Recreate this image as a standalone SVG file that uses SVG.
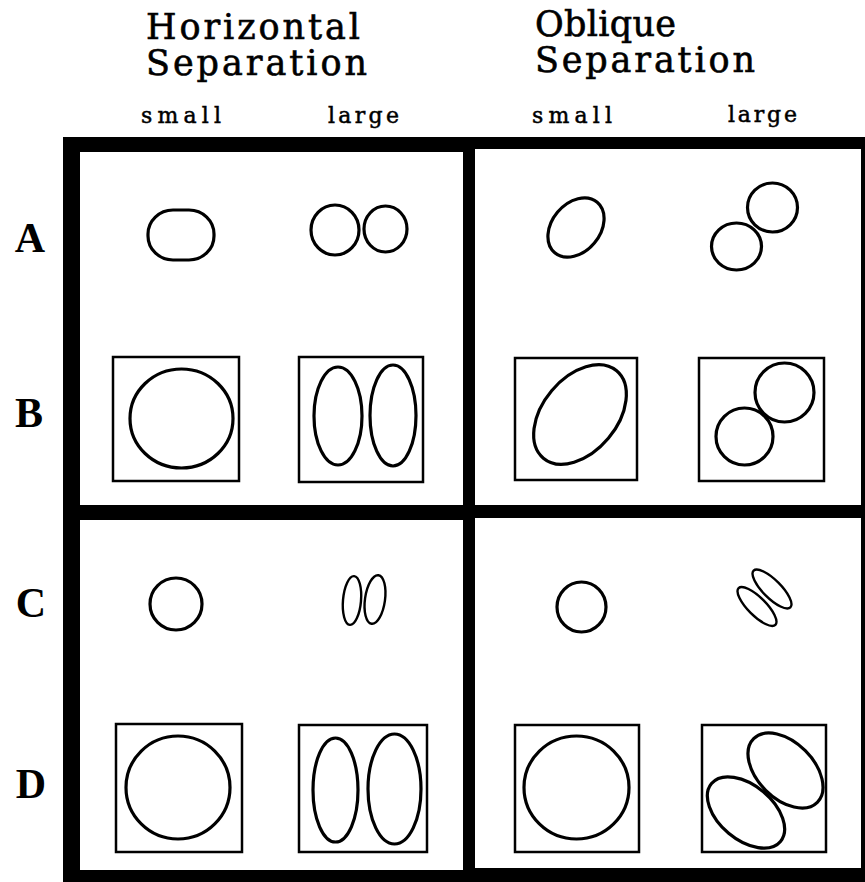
<svg xmlns="http://www.w3.org/2000/svg" width="865" height="882" viewBox="0 0 865 882">
<style>
.title{font-family:"DejaVu Serif","Liberation Serif",serif;font-size:35px;fill:#000;stroke:#000;stroke-width:0.6}
.sub{font-family:"DejaVu Serif","Liberation Serif",serif;font-size:22px;fill:#000;stroke:#000;stroke-width:0.5}
.row{font-family:"Liberation Serif","Times New Roman",serif;font-size:42px;font-weight:bold;fill:#000;text-anchor:middle}
.box{fill:none;stroke:#000;stroke-width:2.5}
.cell{fill:none;stroke:#000;stroke-width:3.2}
.thin{fill:none;stroke:#000;stroke-width:2.4}
</style>
<rect width="865" height="882" fill="#fff"/>
<g id="titles">
<text class="title"><tspan x="146" y="39" textLength="214" lengthAdjust="spacing">Horizontal</tspan><tspan x="146" y="75" textLength="221" lengthAdjust="spacing">Separation</tspan></text>
<text class="title"><tspan x="535" y="36" textLength="141" lengthAdjust="spacing">Oblique</tspan><tspan x="535" y="72" textLength="220" lengthAdjust="spacing">Separation</tspan></text>
<text class="sub" x="141" y="123" textLength="80" lengthAdjust="spacing">small</text>
<text class="sub" x="328" y="123" textLength="71" lengthAdjust="spacing">large</text>
<text class="sub" x="532" y="123" textLength="80" lengthAdjust="spacing">small</text>
<text class="sub" x="728" y="122" textLength="69" lengthAdjust="spacing">large</text>
</g>
<g id="row-labels">
<text class="row" x="30" y="252">A</text>
<text class="row" x="29" y="427">B</text>
<text class="row" x="31" y="617">C</text>
<text class="row" x="31" y="798">D</text>
</g>
<g id="frame">
<rect x="63" y="137" width="802" height="745" fill="#000"/>
<rect x="80" y="152" width="383" height="353" fill="#fff"/>
<rect x="475" y="149" width="386" height="356" fill="#fff"/>
<rect x="80" y="520" width="383" height="350" fill="#fff"/>
<rect x="475" y="518" width="386" height="350" fill="#fff"/>
</g>
<g id="horizontal-AB">
<rect class="cell" x="148" y="210" width="66" height="50" rx="25" ry="24"/>
<ellipse class="cell" cx="335" cy="230" rx="24" ry="25"/>
<ellipse class="cell" cx="385.5" cy="229" rx="21.5" ry="23"/>
<rect class="box" x="113" y="357" width="126" height="124"/>
<ellipse class="cell" cx="181.5" cy="418.5" rx="51.5" ry="49.5"/>
<rect class="box" x="299" y="357" width="124" height="125"/>
<ellipse class="cell" cx="338" cy="416" rx="24" ry="49"/>
<ellipse class="cell" cx="393" cy="415.5" rx="23" ry="50.5"/>
</g>
<g id="oblique-AB">
<ellipse class="cell" cx="576" cy="227.5" rx="33" ry="24" transform="rotate(-50 576 227.5)"/>
<ellipse class="cell" cx="772.5" cy="207.5" rx="25" ry="24.5"/>
<ellipse class="cell" cx="736.5" cy="246.5" rx="25" ry="23.5"/>
<rect class="box" x="515" y="358" width="122" height="122"/>
<ellipse class="cell" cx="580" cy="414.5" rx="57" ry="37" transform="rotate(-50 580 414.5)"/>
<rect class="box" x="699" y="358" width="125" height="123"/>
<ellipse class="cell" cx="784.5" cy="392.5" rx="29.5" ry="29.5"/>
<ellipse class="cell" cx="744.5" cy="436.5" rx="28.5" ry="28.5"/>
</g>
<g id="horizontal-CD">
<ellipse class="cell" cx="176" cy="604" rx="26" ry="26"/>
<ellipse class="thin" cx="352" cy="600.5" rx="9" ry="24.5" transform="rotate(5 352 600.5)"/>
<ellipse class="thin" cx="375" cy="599.5" rx="10" ry="24.5" transform="rotate(8 375 599.5)"/>
<rect class="box" x="116" y="724" width="126" height="128"/>
<ellipse class="cell" cx="178" cy="787.5" rx="52" ry="51.5"/>
<rect class="box" x="299" y="725" width="128" height="127"/>
<ellipse class="cell" cx="335.5" cy="790" rx="22.5" ry="52"/>
<ellipse class="cell" cx="394.5" cy="789" rx="26.5" ry="55"/>
</g>
<g id="oblique-CD">
<ellipse class="cell" cx="581.5" cy="607" rx="24.5" ry="25"/>
<ellipse class="thin" cx="772" cy="589" rx="26" ry="9" transform="rotate(45 772 589)"/>
<ellipse class="thin" cx="757" cy="606.5" rx="26" ry="9" transform="rotate(45 757 606.5)"/>
<rect class="box" x="515" y="725" width="124" height="127"/>
<ellipse class="cell" cx="576.5" cy="787.5" rx="52.5" ry="51.5"/>
<rect class="box" x="702" y="725" width="124" height="127"/>
<ellipse class="cell" cx="785.5" cy="770.5" rx="45" ry="28" transform="rotate(45 785.5 770.5)"/>
<ellipse class="cell" cx="746" cy="812.5" rx="45" ry="27" transform="rotate(40 746 812.5)"/>
</g>
</svg>
